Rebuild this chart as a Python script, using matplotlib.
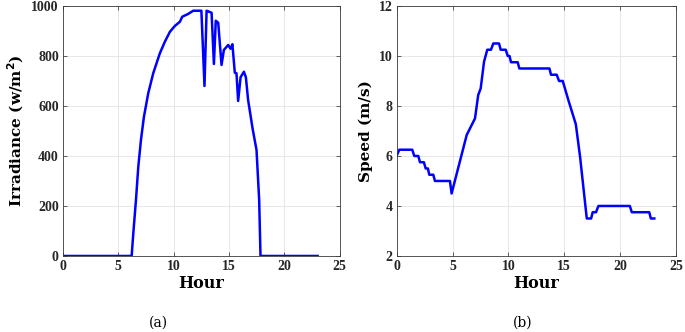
import numpy as np
import matplotlib
matplotlib.use("Agg")
import matplotlib.pyplot as plt

# --- data ---
irr_hour = [0, 6.2, 6.35, 6.59, 6.8, 7.04, 7.31, 7.7, 8.15, 8.75, 9.2, 9.66,
            10.1, 10.56, 10.77, 11.3, 11.76, 12.5, 12.78, 12.97, 13.42, 13.63,
            13.8, 14.02, 14.32, 14.53, 14.92, 15.13, 15.3, 15.52, 15.67, 15.82,
            16.04, 16.34, 16.52, 16.72, 17.12, 17.48, 17.72, 17.84, 23.0]
irr_value = [0, 0, 91, 224, 357, 464, 557, 651, 731, 811, 857, 897,
             920, 937, 957, 968, 981, 981, 680, 981, 973, 768,
             941, 933, 764, 824, 844, 829, 847, 733, 731, 620,
             715, 737, 715, 624, 511, 424, 224, 0, 0]

spd_hour = [0, 0.24, 1.4, 1.58, 1.94, 2.09, 2.44, 2.6, 2.8, 2.92, 3.28, 3.43,
            4.77, 4.92, 6.27, 7.01, 7.3, 7.52, 7.82, 8.11, 8.44, 8.65, 9.16,
            9.31, 9.76, 9.94, 10.1, 10.23, 10.83, 10.98, 13.67, 13.81, 14.32,
            14.53, 14.86, 15.36, 16.03, 16.41, 17.01, 17.4, 17.54, 17.84,
            18.05, 20.86, 21.04, 22.6, 22.74, 23.05]
spd_value = [6.0, 6.25, 6.25, 6.0, 6.0, 5.75, 5.75, 5.5, 5.5, 5.25, 5.25, 5.0,
             5.0, 4.5, 6.84, 7.5, 8.44, 8.7, 9.77, 10.25, 10.25, 10.5, 10.5,
             10.25, 10.25, 10.0, 10.0, 9.75, 9.75, 9.5, 9.5, 9.25, 9.25,
             9.0, 9.0, 8.24, 7.27, 5.97, 3.5, 3.5, 3.75, 3.75,
             4.0, 4.0, 3.75, 3.75, 3.5, 3.5]

xticks = [0, 5, 10, 15, 20, 25]
irr_ticks = [0, 200, 400, 600, 800, 1000]
spd_ticks = [2, 4, 6, 8, 10, 12]

plt.rcParams['font.family'] = ['DejaVu Serif']

fig = plt.figure(figsize=(6.85, 3.32), dpi=100)
ax1 = fig.add_axes([0.092, 0.229, 0.404, 0.753])
ax2 = fig.add_axes([0.579, 0.229, 0.408, 0.753])


def style(ax, ylabel):
    ax.set_xlim(0, 25)
    ax.set_xticks(xticks)
    ax.grid(True, color='#e3e3e3', linewidth=0.6)
    ax.set_axisbelow(True)
    ax.tick_params(direction='in', length=3, width=0.5, colors='#262626',
                   top=True, right=True, pad=3)
    for lab in ax.get_xticklabels() + ax.get_yticklabels():
        lab.set_fontweight('bold')
        lab.set_family(['Liberation Serif'])
        lab.set_fontsize(10)
    for sp in ax.spines.values():
        sp.set_color('#3a3a3a')
        sp.set_linewidth(0.6)
    ax.set_xlabel('Hour', fontsize=11.5, fontweight='bold', labelpad=1)
    ax.set_ylabel(ylabel, fontsize=11, fontweight='bold', labelpad=4)


ax1.plot(irr_hour, irr_value, color='#0000ff', linewidth=1.8)
ax1.set_ylim(0, 1000)
ax1.set_yticks(irr_ticks)
style(ax1, 'Irradiance (w/m$^\\mathbf{2}$)')

ax2.plot(spd_hour, spd_value, color='#0000ff', linewidth=1.8)
ax2.set_ylim(2, 12)
ax2.set_yticks(spd_ticks)
style(ax2, 'Speed (m/s)')

fig.text(0.232, 0.027, '(a)', ha='center', va='center', fontsize=10)
fig.text(0.763, 0.027, '(b)', ha='center', va='center', fontsize=10)

fig.savefig('out.png', dpi=100)
